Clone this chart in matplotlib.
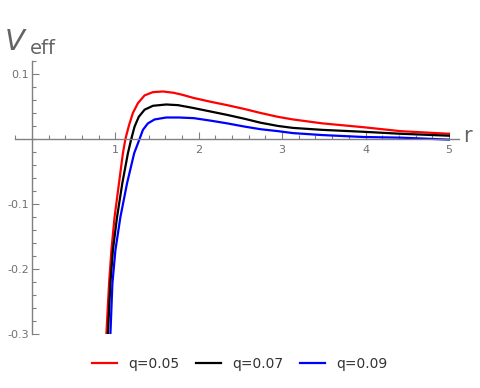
import matplotlib.pyplot as plt
import numpy as np
from matplotlib.ticker import MultipleLocator

# values
r_red = [0.892, 0.924, 0.952, 0.99, 1.043, 1.09, 1.12, 1.163, 1.21, 1.27, 1.35, 1.45, 1.57, 1.70, 1.80, 1.94,
         2.15, 2.34, 2.55, 2.74, 2.95, 3.13, 3.48, 3.98, 4.42, 5.0]
v_red = [-0.30, -0.222, -0.171, -0.120, -0.068, -0.022, 0.0, 0.021, 0.040, 0.055, 0.067, 0.072, 0.073, 0.071, 0.068, 0.063,
         0.057, 0.052, 0.046, 0.040, 0.034, 0.030, 0.024, 0.018, 0.012, 0.008]

r_black = [0.91, 0.94, 0.97, 1.02, 1.083, 1.15, 1.19, 1.23, 1.28, 1.35, 1.45, 1.61, 1.75, 1.92,
           2.15, 2.34, 2.55, 2.74, 2.95, 3.13, 3.48, 3.98, 4.42, 5.0]
v_black = [-0.30, -0.222, -0.171, -0.120, -0.068, -0.022, 0.0, 0.019, 0.034, 0.045, 0.051, 0.053, 0.052, 0.048,
           0.042, 0.037, 0.031, 0.025, 0.020, 0.017, 0.014, 0.011, 0.008, 0.005]

r_blue = [0.94, 0.964, 1.00, 1.06, 1.14, 1.225, 1.29, 1.33, 1.39, 1.47, 1.61, 1.76, 1.94,
          2.15, 2.34, 2.55, 2.74, 2.95, 3.13, 3.48, 3.98, 4.42, 5.0]
v_blue = [-0.30, -0.222, -0.171, -0.120, -0.068, -0.022, 0.0, 0.014, 0.024, 0.030, 0.033, 0.033, 0.032,
          0.028, 0.024, 0.019, 0.015, 0.012, 0.009, 0.006, 0.003, 0.002, -0.001]

labels = ["q=0.05", "q=0.07", "q=0.09"]
colors = ["#ff0000", "#000000", "#0000ff"]

grey = "#808080"
fig = plt.figure(figsize=(4.8, 3.88), dpi=100)
ax = fig.add_axes([0.032, 0.139, 0.924, 0.704])

for r, v, c, lab in zip([r_red, r_black, r_blue], [v_red, v_black, v_blue], colors, labels):
    ax.plot(r, v, color=c, lw=1.6, label=lab, solid_joinstyle="round")

ax.set_xlim(-0.2, 5.12)
ax.set_ylim(-0.3, 0.12)
ax.spines["left"].set_position(("data", 0))
ax.spines["bottom"].set_position(("data", 0))
ax.spines["right"].set_visible(False)
ax.spines["top"].set_visible(False)
ax.spines["left"].set_bounds(-0.3, 0.12)
for s in ["left", "bottom"]:
    ax.spines[s].set_color(grey)
    ax.spines[s].set_linewidth(1.0)

ax.set_xticks([1, 2, 3, 4, 5])
ax.set_yticks([-0.3, -0.2, -0.1, 0.1])
ax.set_yticklabels(["-0.3", "-0.2", "-0.1", "0.1"])
ax.xaxis.set_minor_locator(MultipleLocator(0.2))
ax.yaxis.set_minor_locator(MultipleLocator(0.02))
ax.tick_params(which="both", direction="in", colors=grey, labelcolor="#707070", labelsize=8, width=0.8)
ax.tick_params(which="major", length=5)
ax.tick_params(which="minor", length=3)
ax.tick_params(axis="x", pad=4)
ax.tick_params(axis="y", pad=2)

fig.text(0.010, 0.872, "V", fontsize=21, style="italic", color="#646464")
fig.text(0.062, 0.862, "eff", fontsize=14, color="#646464")
fig.text(0.965, 0.635, "r", fontsize=15, color="#646464")

fig.legend(loc="lower center", bbox_to_anchor=(0.5, 0.012), ncol=3, frameon=False,
           fontsize=10, handlelength=1.8, columnspacing=1.2, labelcolor="#333333")

plt.savefig("out.png")
